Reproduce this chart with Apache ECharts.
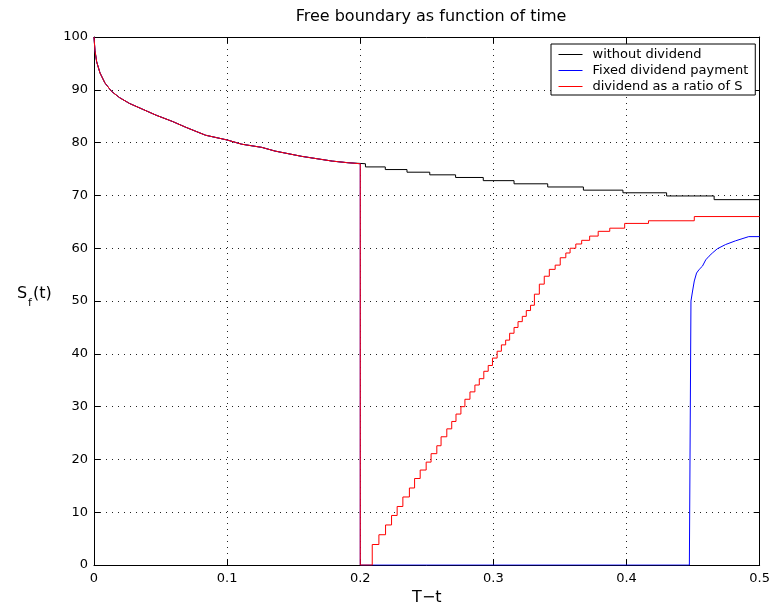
<!DOCTYPE html>
<html><head><meta charset="utf-8">
<script src="https://cdn.jsdelivr.net/npm/echarts@6/dist/echarts.min.js"></script>
<style>html,body{margin:0;padding:0;background:#fff}#c{width:773px;height:611px}</style>
</head><body><div id="c"></div>
<script>
// ---- data ----
const chartTitle = 'Free boundary as function of time';
const seriesNames = ['without dividend', 'Fixed dividend payment', 'dividend as a ratio of S'];
const xName = 'T\u2212t';
const xMin = 0, xMax = 0.5, xStep = 0.1;
const yMin = 0, yMax = 100, yStep = 10;

// shared early part of the free boundary (all three curves coincide)
const tHead = [0, 0.0007, 0.002, 0.0045, 0.0082, 0.0132, 0.0193, 0.0268, 0.0367, 0.0466, 0.059, 0.069, 0.0838, 0.1, 0.111, 0.126, 0.136, 0.156, 0.179, 0.1905];
const sHead = [100, 97.5, 95.3, 93.2, 91.3, 89.7, 88.5, 87.4, 86.3, 85.2, 84.0, 82.9, 81.4, 80.5, 79.7, 79.1, 78.4, 77.4, 76.5, 76.2];

// without dividend: staircase after t=0.19
const tBlack = [0.1905, 0.2039, 0.2188, 0.2351, 0.2522, 0.2716, 0.2924, 0.3155, 0.3408, 0.3676, 0.3973, 0.4301, 0.4658];
const sBlack = [76.0, 75.4, 74.9, 74.4, 73.9, 73.4, 72.8, 72.2, 71.6, 71.0, 70.5, 69.9, 69.2];

// dividend as a ratio of S: staircase after t=0.19
const tRed = [0.1905, 0.2, 0.209, 0.214, 0.219, 0.2235, 0.2277, 0.232, 0.2369, 0.2408, 0.245, 0.2495, 0.2532, 0.2575, 0.2607, 0.265, 0.2687, 0.2719, 0.2756, 0.2786, 0.2824, 0.2861, 0.2894, 0.2928, 0.2961, 0.2993, 0.3028, 0.306, 0.3092, 0.3122, 0.3155, 0.3185, 0.3217, 0.3247, 0.3279, 0.3308, 0.3345, 0.3382, 0.342, 0.3464, 0.3502, 0.3544, 0.3576, 0.3619, 0.3663, 0.3723, 0.3787, 0.3874, 0.3986, 0.4165, 0.4509];
const sRed = [76.0, 0, 3.9, 5.75, 7.6, 9.4, 11.1, 12.9, 14.6, 16.4, 18.0, 19.5, 21.1, 22.6, 24.3, 25.8, 27.2, 28.6, 30.0, 31.4, 32.8, 34.1, 35.3, 36.7, 37.8, 39.2, 40.5, 41.7, 42.6, 43.9, 45.0, 46.1, 47.1, 48.2, 49.2, 51.3, 53.2, 54.7, 56.0, 56.8, 58.2, 59.1, 60.0, 60.8, 61.5, 62.3, 63.2, 63.8, 64.7, 65.2, 66.0];

// fixed dividend payment: drop at t=0.2, zero until ~0.447, then rise
const tBlueDrop = [0.1905, 0.2];
const sBlueDrop = [76.0, 0];
const tBlueRise = [0.4472, 0.4484, 0.4496, 0.4509, 0.4526, 0.4546, 0.457, 0.4595, 0.462, 0.4645, 0.4682, 0.4744, 0.4818, 0.4918, 0.5];
const sBlueRise = [0, 50.0, 51.9, 53.8, 55.3, 56.0, 56.6, 57.8, 58.5, 59.1, 59.9, 60.7, 61.4, 62.2, 62.2];

// ---- helpers ----
function pairs(t, s) { return t.map((x, i) => [x, s[i]]); }
function stairs(t, s, end) {
  const out = [];
  for (let i = 0; i < t.length; i++) {
    if (i > 0) out.push([t[i], s[i - 1]]);
    out.push([t[i], s[i]]);
  }
  if (end != null) out.push([end, s[s.length - 1]]);
  return out;
}
const head = pairs(tHead, sHead);
const blackData = head.concat(stairs(tBlack, sBlack, xMax));
const redData = head.concat(stairs(tRed, sRed, xMax));
const blueData = head.concat(stairs(tBlueDrop, sBlueDrop, tBlueRise[0]), pairs(tBlueRise, sBlueRise));

const FONT = 'DejaVu Sans';
const chart = echarts.init(document.getElementById('c'), null, { renderer: 'canvas' });
const axisCommon = {
  axisLine: { show: true, onZero: false, lineStyle: { color: '#000', width: 1 } },
  axisTick: { show: true, inside: true, length: 6, lineStyle: { color: '#000' } },
};
chart.setOption({
  animation: false,
  backgroundColor: '#fff',
  title: {
    text: chartTitle, left: 431, top: 9, textAlign: 'center', padding: 0,
    textStyle: { fontFamily: FONT, fontSize: 16, fontWeight: 'normal', color: '#000' }
  },
  grid: { left: 94, right: 7, top: 37, bottom: 41, containLabel: false },
  legend: {
    data: seriesNames, orient: 'vertical', left: 551, top: 44,
    backgroundColor: '#fff', borderColor: '#000', borderWidth: 1,
    padding: [4, 7, 2, 7], itemGap: 3, itemWidth: 24, itemHeight: 14,
    selectedMode: false,
    itemStyle: { color: 'rgba(0,0,0,0)', borderWidth: 0, opacity: 0 },
    lineStyle: { width: 1 },
    textStyle: { fontFamily: FONT, fontSize: 13, color: '#000', padding: [0, 0, 0, 5] }
  },
  xAxis: [
    Object.assign({
      type: 'value', min: xMin, max: xMax, interval: xStep, position: 'bottom',
      name: xName, nameLocation: 'middle', nameGap: 23,
      nameTextStyle: { fontFamily: FONT, fontSize: 16, color: '#000' },
      axisLabel: { margin: 7, fontFamily: FONT, fontSize: 13, color: '#000', showMaxLabel: true, hideOverlap: false },
      splitLine: { show: true, lineStyle: { color: '#222', width: 1, type: [1, 5] } }
    }, axisCommon),
    Object.assign({
      type: 'value', min: xMin, max: xMax, interval: xStep, position: 'top',
      axisLabel: { show: false }, splitLine: { show: false }
    }, axisCommon)
  ],
  yAxis: [
    Object.assign({
      type: 'value', min: yMin, max: yMax, interval: yStep, position: 'left',
      axisLabel: { margin: 6, fontFamily: FONT, fontSize: 13, color: '#000' },
      splitLine: { show: true, lineStyle: { color: '#222', width: 1, type: [1, 5] } }
    }, axisCommon),
    Object.assign({
      type: 'value', min: yMin, max: yMax, interval: yStep, position: 'right',
      axisLabel: { show: false }, splitLine: { show: false }
    }, axisCommon)
  ],
  graphic: [
    { type: 'text', x: 17, y: 294, style: { text: 'S', fontFamily: FONT, fontSize: 16, fill: '#000', verticalAlign: 'middle' } },
    { type: 'text', x: 28, y: 303, style: { text: 'f', fontFamily: FONT, fontSize: 11, fill: '#000', verticalAlign: 'middle' } },
    { type: 'text', x: 33, y: 294, style: { text: '(t)', fontFamily: FONT, fontSize: 16, fill: '#000', verticalAlign: 'middle' } }
  ],
  series: [
    { name: seriesNames[0], type: 'line', data: blackData, showSymbol: false, symbol: 'none',
      lineStyle: { color: '#000', width: 1 }, itemStyle: { color: '#000' }, z: 2 },
    { name: seriesNames[1], type: 'line', data: blueData, showSymbol: false, symbol: 'none',
      lineStyle: { color: '#0000ff', width: 1 }, itemStyle: { color: '#0000ff' }, z: 3 },
    { name: seriesNames[2], type: 'line', data: redData, showSymbol: false, symbol: 'none',
      lineStyle: { color: '#ff0000', width: 1 }, itemStyle: { color: '#ff0000' }, z: 4 }
  ]
});
</script>
</body></html>
